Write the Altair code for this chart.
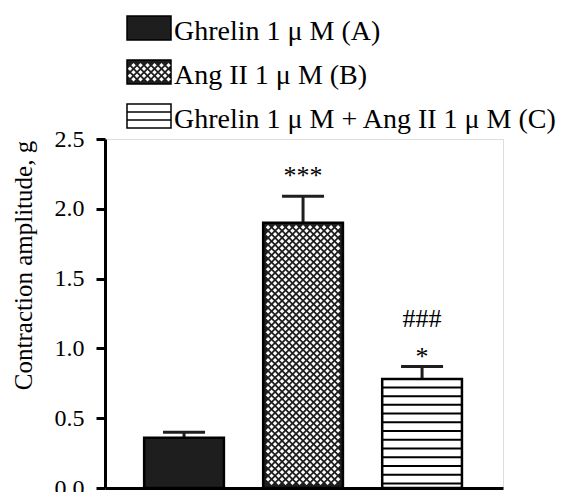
import altair as alt
import pandas as pd

# ---- data ----
groups = ["A", "B", "C"]
labels = ["Ghrelin 1 μ M (A)", "Ang II 1 μ M (B)", "Ghrelin 1 μ M + Ang II 1 μ M (C)"]
means = [0.36, 1.90, 0.78]
sems = [0.04, 0.19, 0.09]
y_ticks = [0.0, 0.5, 1.0, 1.5, 2.0, 2.5]

df = pd.DataFrame({"group": groups, "label": labels, "mean": means, "sem": sems,
                   "idx": list(range(len(groups)))})

FONT = "Liberation Serif"
W, H = 398, 349
XD = [-0.664, 2.68]
YD = [0.0, 2.5]
PXX = W / (XD[1] - XD[0])
PXY = H / (YD[1] - YD[0])
HALF = 0.335
CAP = 0.1765
DARK = "#1e1e1e"
P = 7.0      # horizontal period of the crosshatch holes (px)
R = 3.5      # row spacing of the crosshatch holes (px)
DSIZE = 20   # diamond size

xs = alt.Scale(domain=XD, nice=False, zero=False)
ys = alt.Scale(domain=YD, nice=False, zero=False)
fill_scale = alt.Scale(domain=groups, range=[DARK, DARK, "white"])

xaxis = alt.Axis(labels=False, ticks=False, title=None, grid=False, domainWidth=3, domainColor="black")
yaxis = alt.Axis(values=y_ticks, format=".1f", title="Contraction amplitude, g", grid=False,
                 domainWidth=3, domainColor="black", tickWidth=3, tickSize=9, tickColor="black",
                 labelFont=FONT, labelFontSize=24, labelColor="black", labelPadding=12,
                 titleFont=FONT, titleFontSize=25, titleFontWeight="normal", titleColor="black",
                 titleAngle=-90, titleAlign="center", titleBaseline="alphabetic",
                 titleX=-74, titleY=126)

def X(f):
    return alt.X(f, type="quantitative", scale=xs, axis=xaxis, title=None)

def Y(f):
    return alt.Y(f, type="quantitative", scale=ys, axis=yaxis, title="Contraction amplitude, g")

base = alt.Chart(df)

bars = base.transform_calculate(
    x0=f"datum.idx - {HALF}", x1=f"datum.idx + {HALF}"
).mark_rect(stroke="black", strokeWidth=2.5).encode(
    x=X("x0"), x2="x1:Q", y=Y("mean"), y2=alt.datum(0),
    fill=alt.Fill("group:N", scale=fill_scale, legend=None),
)

# crosshatch (white diamonds on black) for bar B
diam = base.transform_filter("datum.group == 'B'").transform_calculate(
    r=f"sequence(0, ceil(datum.mean*{PXY}/{R}) + 2)"
).transform_flatten(["r"]).transform_calculate(
    c="sequence(0, 16)"
).transform_flatten(["c"]).transform_calculate(
    px=f"datum.c*{P} + (datum.r % 2)*{P/2} - 42",
    py=f"datum.r*{R} + 1.8",
).transform_filter(
    f"abs(datum.px) <= 37 && datum.py >= 3 && datum.py <= datum.mean*{PXY} - 3"
).transform_calculate(
    xd=f"datum.idx + datum.px/{PXX}", yd=f"datum.py/{PXY}"
).mark_point(shape="diamond", filled=True, color="white", size=DSIZE, opacity=1, strokeWidth=0).encode(
    x=X("xd"), y=Y("yd")
)

# horizontal lines for bar C
hlines = base.transform_filter("datum.group == 'C'").transform_calculate(
    k="sequence(0, 30)"
).transform_flatten(["k"]).transform_calculate(
    ly="0.033 + datum.k*0.0625",
    x0=f"datum.idx - {HALF}", x1=f"datum.idx + {HALF}",
).transform_filter("datum.ly < datum.mean - 0.03").mark_rule(color="black", strokeWidth=2).encode(
    x=X("x0"), x2="x1:Q", y=Y("ly")
)

err = base.transform_calculate(top="datum.mean + datum.sem").mark_rule(color=DARK, strokeWidth=3).encode(
    x=X("idx"), y=Y("mean"), y2="top:Q"
)
caps = base.transform_calculate(
    top="datum.mean + datum.sem", c0=f"datum.idx - {CAP}", c1=f"datum.idx + {CAP}"
).mark_rule(color=DARK, strokeWidth=3).encode(x=X("c0"), x2="c1:Q", y=Y("top"))

def annot(group, text, dy):
    return base.transform_filter(f"datum.group == '{group}'").transform_calculate(
        top="datum.mean + datum.sem"
    ).mark_text(text=text, dy=dy, font=FONT, fontSize=26, color="black",
                align="center", baseline="alphabetic").encode(x=X("idx"), y=Y("top"))

ann_b = annot("B", "***", -12)
ann_c1 = annot("C", "*", -2)
ann_c2 = annot("C", "###", -40)

# ---- legend (drawn above the plot area, pixel positions relative to plot origin) ----
LX0, LX1 = 22, 66
leg = base.transform_calculate(ly0="-123 + 44*datum.idx", ly1="-99 + 44*datum.idx")

leg_box = leg.mark_rect(stroke="black", strokeWidth=1.5).encode(
    x=alt.value(LX0), x2=alt.value(LX1),
    y=alt.Y("ly0:Q", scale=None), y2="ly1:Q",
    fill=alt.Fill("group:N", scale=fill_scale, legend=None),
)
leg_diam = leg.transform_filter("datum.group == 'B'").transform_calculate(
    r="sequence(0, 9)"
).transform_flatten(["r"]).transform_calculate(
    c="sequence(0, 9)"
).transform_flatten(["c"]).transform_calculate(
    px=f"{LX0} + 3 + datum.c*{P} + (datum.r % 2)*{P/2}",
    py=f"datum.ly0 + 1.8 + datum.r*{R}",
).transform_filter(
    f"datum.px <= {LX1} - 2.5 && datum.py >= datum.ly0 + 2.5 && datum.py <= datum.ly1 - 2.5"
).mark_point(shape="diamond", filled=True, color="white", size=DSIZE, opacity=1, strokeWidth=0).encode(
    x=alt.X("px:Q", scale=None), y=alt.Y("py:Q", scale=None)
)
leg_lines = leg.transform_filter("datum.group == 'C'").transform_calculate(
    k="[1, 2]"
).transform_flatten(["k"]).transform_calculate(
    lly="datum.ly0 + 8*datum.k"
).mark_rule(color="black", strokeWidth=1.5).encode(
    x=alt.value(LX0), x2=alt.value(LX1), y=alt.Y("lly:Q", scale=None)
)
leg_text = leg.mark_text(align="left", baseline="alphabetic", font=FONT, fontSize=28,
                         color="black").encode(
    x=alt.value(LX1 + 3), y=alt.Y("ly1:Q", scale=None), text="label:N"
)

chart = alt.layer(
    err, bars, diam, hlines, caps, ann_b, ann_c1, ann_c2,
    leg_box, leg_diam, leg_lines, leg_text
).properties(
    width=W, height=H,
    autosize=alt.AutoSizeParams(type="none"),
    padding={"left": 97, "top": 131, "right": 55, "bottom": 4},
).configure_view(stroke=None).configure(background="white")

chart.save("out.html", embed_options={"renderer": "svg", "actions": False})
